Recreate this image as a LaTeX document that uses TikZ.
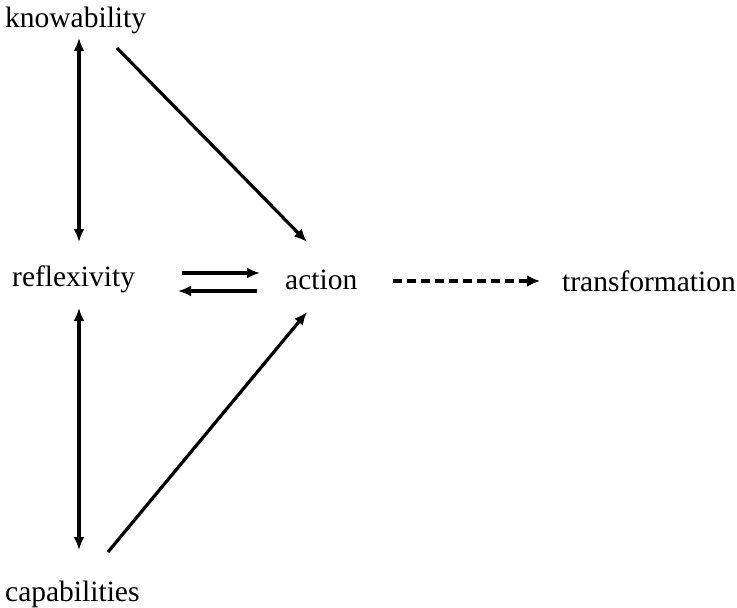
\documentclass[tikz,border=0pt]{standalone}
\usepackage{fontspec}
\setmainfont{Liberation Serif}
\usetikzlibrary{arrows.meta}
\begin{document}
\begin{tikzpicture}[x=1pt,y=-1pt,
  lbl/.style={anchor=base west,inner sep=0pt,font=\fontsize{29.5}{35}\selectfont},
  conn/.style={line width=3.2pt,-{Latex[length=13pt,width=11pt]}},
  dconn/.style={line width=3.2pt,{Latex[length=13pt,width=11pt]}-{Latex[length=13pt,width=11pt]}},
  dashconn/.style={line width=3.6pt,dash pattern=on 9pt off 5pt,-{Latex[length=13pt,width=12pt]}}]
\useasboundingbox (0,0) rectangle (737,608);
\node[lbl] (k) at (5,27) {knowability};
\node[lbl] (r) at (12,286) {reflexivity};
\node[lbl] (a) at (285,289) {action};
\node[lbl] (t) at (562,291) {transformation};
\node[lbl] (c) at (5,601) {capabilities};
\draw[dconn] ([shift={(74,11)}]k.base west) -- ([shift={(67,-44)}]r.base west);
\draw[dconn] ([shift={(67,22)}]r.base west) -- ([shift={(74,-51)}]c.base west);
\draw[conn] ([shift={(112,21)}]k.base west) -- ([shift={(22,-47)}]a.base west);
\draw[conn] ([shift={(103,-49)}]c.base west) -- ([shift={(22,23)}]a.base west);
\draw[conn] ([shift={(170,-13)}]r.base west) -- ([shift={(-25,-16)}]a.base west);
\draw[conn] ([shift={(-28,2)}]a.base west) -- ([shift={(166,5)}]r.base west);
\draw[dashconn] ([shift={(108,-8)}]a.base west) -- ([shift={(-22,-10)}]t.base west);
\end{tikzpicture}
\end{document}
